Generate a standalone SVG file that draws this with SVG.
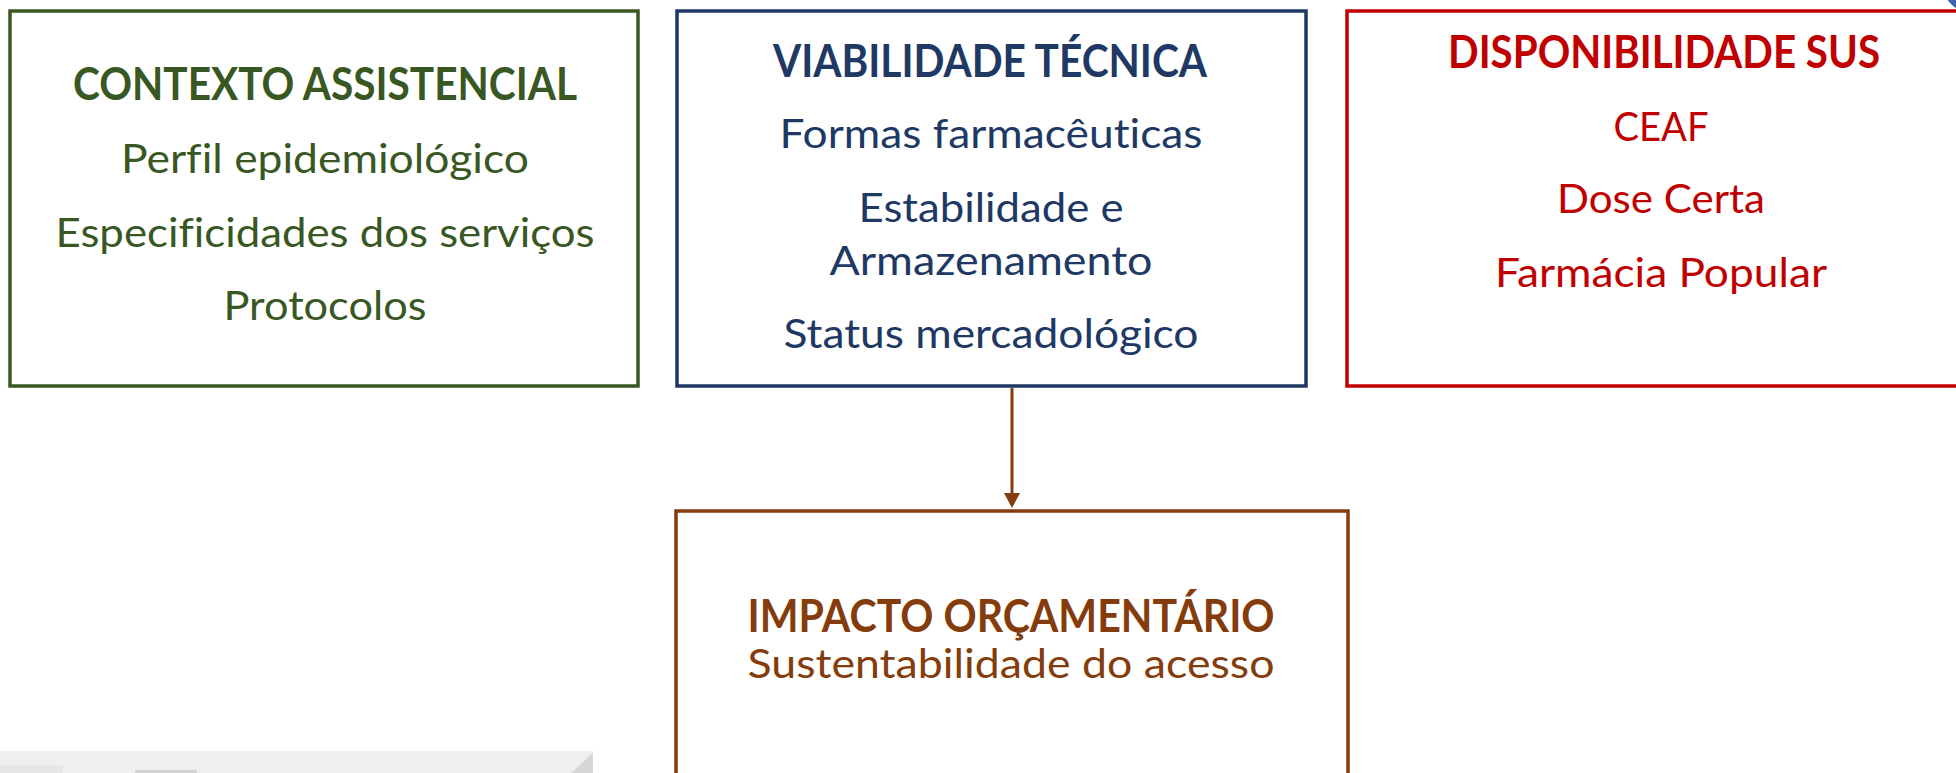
<svg xmlns="http://www.w3.org/2000/svg" width="1956" height="773" viewBox="0 0 1956 773">
<style>
.box{fill:#ffffff;stroke-width:3.5}
.t{font-family:Lato,"Open Sans","Liberation Sans",sans-serif;text-anchor:middle;font-variant-ligatures:none}
.h{font-weight:bold;font-size:45px}
.b{font-size:41px}
.g{fill:#385723}.gs{stroke:#385723}
.n{fill:#203864}.ns{stroke:#203864}
.r{fill:#C00000}.rs{stroke:#C00000}
.o{fill:#843C0C}.os{stroke:#843C0C}
</style>
<rect width="1956" height="773" fill="#ffffff"/>
<circle cx="1985" cy="-30" r="48" fill="#3F5FAF"/>
<g id="bg-shape">
<rect x="0" y="751" width="593" height="22" fill="#efefef"/>
<rect x="0" y="765" width="63" height="8" fill="#e6e6e6"/>
<rect x="135" y="770" width="62" height="3" fill="#d4d4d4"/>
<polygon points="593,753 593,773 571,773" fill="#d6d6d6"/>
</g>
<g id="connectors">
<line x1="1012" y1="388" x2="1012" y2="495" stroke="#843C0C" stroke-width="3"/>
<polygon points="1004,493 1020,493 1012,508" fill="#843C0C"/>
</g>
<g id="contexto">
<rect class="box gs" x="10" y="11" width="628" height="375"/>
<text class="t h g" x="325" y="100" textLength="504" lengthAdjust="spacingAndGlyphs">CONTEXTO ASSISTENCIAL</text>
<text class="t b g" x="325" y="173" textLength="408" lengthAdjust="spacingAndGlyphs">Perfil epidemiológico</text>
<text class="t b g" x="325" y="247" textLength="539" lengthAdjust="spacingAndGlyphs">Especificidades dos serviços</text>
<text class="t b g" x="325" y="320" textLength="203" lengthAdjust="spacingAndGlyphs">Protocolos</text>
</g>
<g id="viabilidade">
<rect class="box ns" x="677" y="11" width="629" height="375"/>
<text class="t h n" x="990" y="77" textLength="434" lengthAdjust="spacingAndGlyphs">VIABILIDADE TÉCNICA</text>
<text class="t b n" x="991" y="148" textLength="423" lengthAdjust="spacingAndGlyphs">Formas farmacêuticas</text>
<text class="t b n" x="991" y="222" textLength="265" lengthAdjust="spacingAndGlyphs">Estabilidade e</text>
<text class="t b n" x="991" y="275" textLength="323" lengthAdjust="spacingAndGlyphs">Armazenamento</text>
<text class="t b n" x="991" y="348" textLength="415" lengthAdjust="spacingAndGlyphs">Status mercadológico</text>
</g>
<g id="disponibilidade">
<rect class="box rs" x="1347" y="11" width="660" height="375"/>
<text class="t h r" x="1664" y="68" textLength="432" lengthAdjust="spacingAndGlyphs">DISPONIBILIDADE SUS</text>
<text class="t b r" x="1661" y="141" textLength="95" lengthAdjust="spacingAndGlyphs">CEAF</text>
<text class="t b r" x="1661" y="213" textLength="208" lengthAdjust="spacingAndGlyphs">Dose Certa</text>
<text class="t b r" x="1661" y="287" textLength="332" lengthAdjust="spacingAndGlyphs">Farmácia Popular</text>
</g>
<g id="impacto">
<rect class="box os" x="676" y="511" width="672" height="300"/>
<text class="t h o" x="1011" y="632" textLength="527" lengthAdjust="spacingAndGlyphs">IMPACTO ORÇAMENTÁRIO</text>
<text class="t b o" x="1011" y="678" textLength="527" lengthAdjust="spacingAndGlyphs">Sustentabilidade do acesso</text>
</g>
</svg>
